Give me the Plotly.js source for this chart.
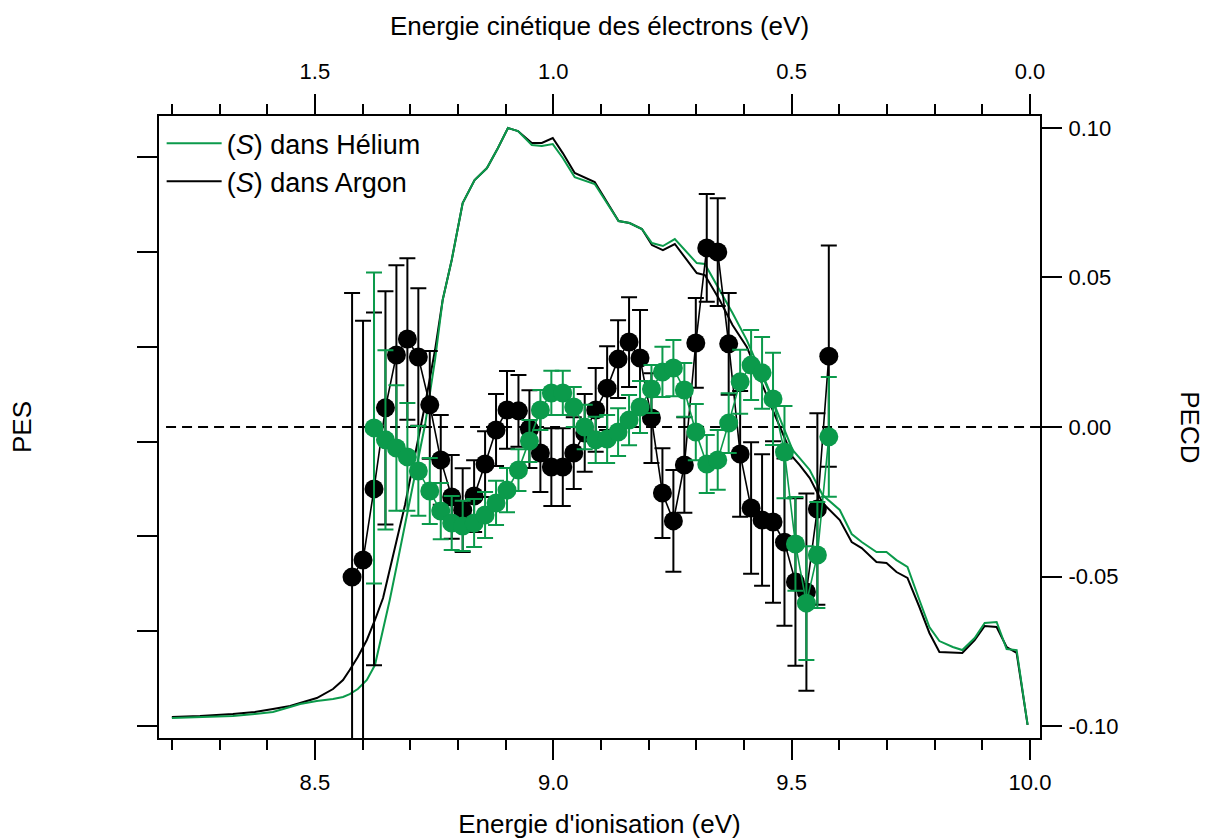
<!DOCTYPE html>
<html>
<head>
<meta charset="utf-8">
<script src="https://cdn.plot.ly/plotly-3.0.1.min.js"></script>
<style>html,body{margin:0;padding:0;background:#fff;}#chart{width:1205px;height:839px;}</style>
</head>
<body>
<div id="chart"></div>
<script>
// ---- PES spectra (ionisation energy in eV, arbitrary units) ----
const pesEnergy = [8.200, 8.259, 8.328, 8.374, 8.412, 8.448, 8.469, 8.504, 8.538, 8.559, 8.573, 8.590,
  8.609, 8.626, 8.643, 8.657, 8.672, 8.689, 8.710, 8.731, 8.752, 8.768, 8.787, 8.810, 8.835, 8.861,
  8.884, 8.905, 8.926, 8.955, 8.976, 8.999, 9.020, 9.045, 9.087, 9.137, 9.160, 9.186, 9.207, 9.230,
  9.255, 9.301, 9.318, 9.349, 9.376, 9.406, 9.429, 9.454, 9.481, 9.502, 9.517, 9.538, 9.565, 9.601,
  9.626, 9.647, 9.678, 9.699, 9.720, 9.743, 9.768, 9.789, 9.810, 9.838, 9.858, 9.884, 9.905, 9.930,
  9.951, 9.972, 9.995];
const pesArgon = [0.095, 0.105, 0.127, 0.148, 0.179, 0.211, 0.243, 0.295, 0.390, 0.485, 0.591, 0.728,
  0.907, 1.118, 1.350, 1.645, 1.961, 2.330, 2.858, 3.385, 3.965, 4.492, 4.914, 5.515, 5.758, 5.884,
  6.095, 6.306, 6.274, 6.148, 6.148, 6.201, 6.042, 5.832, 5.737, 5.325, 5.304, 5.241, 5.072, 5.019,
  5.083, 4.777, 4.756, 4.492, 4.229, 3.997, 3.723, 3.406, 3.090, 2.837, 2.752, 2.615, 2.352, 2.172,
  1.940, 1.877, 1.729, 1.719, 1.624, 1.561, 1.255, 0.981, 0.780, 0.770, 0.770, 0.907, 1.055, 1.044,
  0.833, 0.770, 0.011];
const pesHelium = [0.084, 0.095, 0.105, 0.127, 0.148, 0.200, 0.232, 0.264, 0.285, 0.306, 0.337, 0.390,
  0.485, 0.643, 1.012, 1.329, 1.698, 2.120, 2.678, 3.174, 3.860, 4.492, 4.914, 5.515, 5.758, 5.884,
  6.095, 6.306, 6.274, 6.127, 6.116, 6.137, 5.990, 5.789, 5.715, 5.325, 5.304, 5.241, 5.093, 5.062,
  5.135, 4.882, 4.872, 4.598, 4.355, 4.070, 3.807, 3.512, 3.174, 2.911, 2.826, 2.700, 2.436, 2.278,
  2.025, 1.940, 1.835, 1.835, 1.750, 1.677, 1.329, 1.044, 0.896, 0.833, 0.801, 0.928, 1.086, 1.097,
  0.812, 0.801, 0.011];

// ---- PECD (ionisation energy in eV) ----
const pecdEnergyArgon = [8.578, 8.601, 8.624, 8.648, 8.671, 8.694, 8.717, 8.741, 8.764, 8.787, 8.810,
  8.834, 8.857, 8.880, 8.903, 8.927, 8.950, 8.973, 8.996, 9.020, 9.043, 9.066, 9.089, 9.113, 9.136,
  9.159, 9.182, 9.206, 9.229, 9.252, 9.275, 9.299, 9.322, 9.345, 9.368, 9.392, 9.415, 9.438, 9.461,
  9.485, 9.508, 9.531, 9.554, 9.578];
const pecdArgon = [-0.0502, -0.0445, -0.0207, 0.0064, 0.0241, 0.0294, 0.0234, 0.0074, -0.0110, -0.0234,
  -0.0278, -0.0231, -0.0124, -0.0010, 0.0057, 0.0054, -0.0007, -0.0087, -0.0134, -0.0134, -0.0087,
  -0.0020, 0.0057, 0.0130, 0.0227, 0.0284, 0.0231, 0.0030, -0.0221, -0.0314, -0.0127, 0.0281, 0.0599,
  0.0585, 0.0278, -0.0090, -0.0271, -0.0311, -0.0318, -0.0385, -0.0518, -0.0552, -0.0274, 0.0237];
const pecdArgonErr = [0.095, 0.080, 0.059, 0.039, 0.030, 0.027, 0.023, 0.018, 0.015, 0.014, 0.014,
  0.012, 0.011, 0.012, 0.013, 0.012, 0.013, 0.013, 0.013, 0.013, 0.012, 0.013, 0.014, 0.014, 0.013,
  0.015, 0.016, 0.015, 0.015, 0.017, 0.016, 0.015, 0.018, 0.018, 0.017, 0.021, 0.022, 0.022, 0.027,
  0.028, 0.028, 0.033, 0.032, 0.037];

const pecdEnergyHelium = [8.624, 8.648, 8.671, 8.694, 8.717, 8.741, 8.764, 8.787, 8.810, 8.834, 8.857,
  8.880, 8.903, 8.927, 8.950, 8.973, 8.996, 9.020, 9.043, 9.066, 9.089, 9.113, 9.136, 9.159, 9.182,
  9.206, 9.229, 9.252, 9.275, 9.299, 9.322, 9.345, 9.368, 9.392, 9.415, 9.438, 9.461, 9.485, 9.508,
  9.531, 9.554, 9.578];
const pecdHelium = [-0.0003, -0.0043, -0.0070, -0.0100, -0.0147, -0.0214, -0.0281, -0.0321, -0.0331,
  -0.0321, -0.0294, -0.0254, -0.0211, -0.0144, -0.0047, 0.0057, 0.0114, 0.0114, 0.0067, 0.0000,
  -0.0043, -0.0040, -0.0017, 0.0023, 0.0067, 0.0127, 0.0184, 0.0197, 0.0124, -0.0017, -0.0124,
  -0.0110, 0.0013, 0.0151, 0.0207, 0.0181, 0.0094, -0.0084, -0.0391, -0.0589, -0.0428, -0.0033];
const pecdHeliumErr = [0.052, 0.030, 0.021, 0.018, 0.015, 0.011, 0.0094, 0.0090, 0.0084, 0.0080,
  0.0077, 0.0074, 0.0074, 0.0070, 0.0070, 0.0067, 0.0074, 0.0074, 0.0067, 0.0074, 0.0077, 0.0080,
  0.0080, 0.0084, 0.0087, 0.0080, 0.0084, 0.0094, 0.0090, 0.0094, 0.0097, 0.0100, 0.0100, 0.0107,
  0.0117, 0.0120, 0.0154, 0.0154, 0.0157, 0.0190, 0.0177, 0.0200];

// ---- tick labels ----
const ieTicks = [8.5, 9.0, 9.5, 10.0];
const ieTickText = ['8.5', '9.0', '9.5', '10.0'];
const keTicks = [1.5, 1.0, 0.5, 0.0];
const keTickText = ['1.5', '1.0', '0.5', '0.0'];
const pecdTicks = [0.10, 0.05, 0.00, -0.05, -0.10];
const pecdTickText = ['0.10', '0.05', '0.00', '-0.05', '-0.10'];
const pesTicks = [0, 1, 2, 3, 4, 5, 6];

const GREEN = '#0b9a4b';
const FONT = 'Liberation Sans, Arial, Helvetica, sans-serif';

const traces = [
  { x: pesEnergy, y: pesArgon, type: 'scatter', mode: 'lines', name: '(<i>S</i>) dans Argon',
    line: { color: '#000', width: 2 }, legendrank: 2, xaxis: 'x', yaxis: 'y', hoverinfo: 'skip' },
  { x: pesEnergy, y: pesHelium, type: 'scatter', mode: 'lines', name: '(<i>S</i>) dans Hélium',
    line: { color: GREEN, width: 2 }, legendrank: 1, xaxis: 'x', yaxis: 'y', hoverinfo: 'skip' },
  { x: pecdEnergyArgon, y: pecdArgon, type: 'scatter', mode: 'lines+markers', showlegend: false,
    xaxis: 'x', yaxis: 'y2', line: { color: '#000', width: 1.6 },
    marker: { color: '#000', size: 19 },
    error_y: { type: 'data', array: pecdArgonErr, visible: true, color: '#000', thickness: 2, width: 8 } },
  { x: pecdEnergyHelium, y: pecdHelium, type: 'scatter', mode: 'lines+markers', showlegend: false,
    xaxis: 'x', yaxis: 'y2', line: { color: GREEN, width: 1.6 },
    marker: { color: GREEN, size: 19 },
    error_y: { type: 'data', array: pecdHeliumErr, visible: true, color: GREEN, thickness: 2, width: 8 } },
  { x: keTicks, y: keTicks.map(() => null), type: 'scatter', mode: 'markers', showlegend: false,
    xaxis: 'x2', yaxis: 'y', hoverinfo: 'skip', marker: { opacity: 0 } }
];

const axisCommon = {
  showline: true, linewidth: 2, linecolor: '#000', showgrid: false, zeroline: false,
  ticks: 'outside', ticklen: 20, tickwidth: 2, tickcolor: '#000',
  tickfont: { family: FONT, size: 22, color: '#000' }, fixedrange: true
};

const layout = {
  width: 1205, height: 839,
  margin: { l: 159, r: 165, t: 116, b: 101 },
  paper_bgcolor: '#fff', plot_bgcolor: '#fff',
  font: { family: FONT, color: '#000', size: 22 },
  showlegend: true,
  legend: { x: 0.003, y: 0.995, xanchor: 'left', yanchor: 'top', bgcolor: 'rgba(0,0,0,0)',
    font: { family: FONT, size: 27, color: '#000' }, tracegroupgap: 0, itemwidth: 55 },
  xaxis: Object.assign({}, axisCommon, {
    range: [8.173, 10.021], tickmode: 'array', tickvals: ieTicks, ticktext: ieTickText,
    ticklabelstandoff: 4,
    minor: { tickmode: 'linear', tick0: 8.0, dtick: 0.1, ticks: 'outside', ticklen: 10, tickwidth: 2, tickcolor: '#000', showgrid: false },
    title: { text: "Energie d'ionisation (eV)", font: { family: FONT, size: 26 }, standoff: 22 },
    anchor: 'y', mirror: false
  }),
  xaxis2: Object.assign({}, axisCommon, {
    overlaying: 'x', side: 'top', anchor: 'y',
    range: [1.827, -0.021], tickmode: 'array', tickvals: keTicks, ticktext: keTickText,
    ticklabelstandoff: 6,
    minor: { tickmode: 'linear', tick0: 0, dtick: 0.1, ticks: 'outside', ticklen: 10, tickwidth: 2, tickcolor: '#000', showgrid: false },
    title: { text: 'Energie cinétique des électrons (eV)', font: { family: FONT, size: 26 }, standoff: 16 }
  }),
  yaxis: Object.assign({}, axisCommon, {
    range: [-0.1265, 6.433], tickmode: 'array', tickvals: pesTicks, showticklabels: false,
    anchor: 'x', side: 'left'
  }),
  yaxis2: Object.assign({}, axisCommon, {
    overlaying: 'y', side: 'right', anchor: 'x', ticklabelstandoff: 2,
    range: [-0.104, 0.104], tickmode: 'array', tickvals: pecdTicks, ticktext: pecdTickText
  }),
  shapes: [
    { type: 'line', xref: 'paper', x0: 0.008, x1: 1, yref: 'y2', y0: 0, y1: 0,
      line: { color: '#000', width: 2, dash: '10px,6px' }, layer: 'below' }
  ],
  annotations: [
    { text: 'PES', xref: 'paper', yref: 'paper', x: -0.1555, y: 0.5, showarrow: false,
      textangle: -90, font: { family: FONT, size: 26, color: '#000' }, xanchor: 'center', yanchor: 'middle' },
    { text: 'PECD', xref: 'paper', yref: 'paper', x: 1.17, y: 0.5, showarrow: false,
      textangle: 90, font: { family: FONT, size: 26, color: '#000' }, xanchor: 'center', yanchor: 'middle' }
  ]
};

Plotly.newPlot('chart', traces, layout, { staticPlot: true, displayModeBar: false });
</script>
</body>
</html>
